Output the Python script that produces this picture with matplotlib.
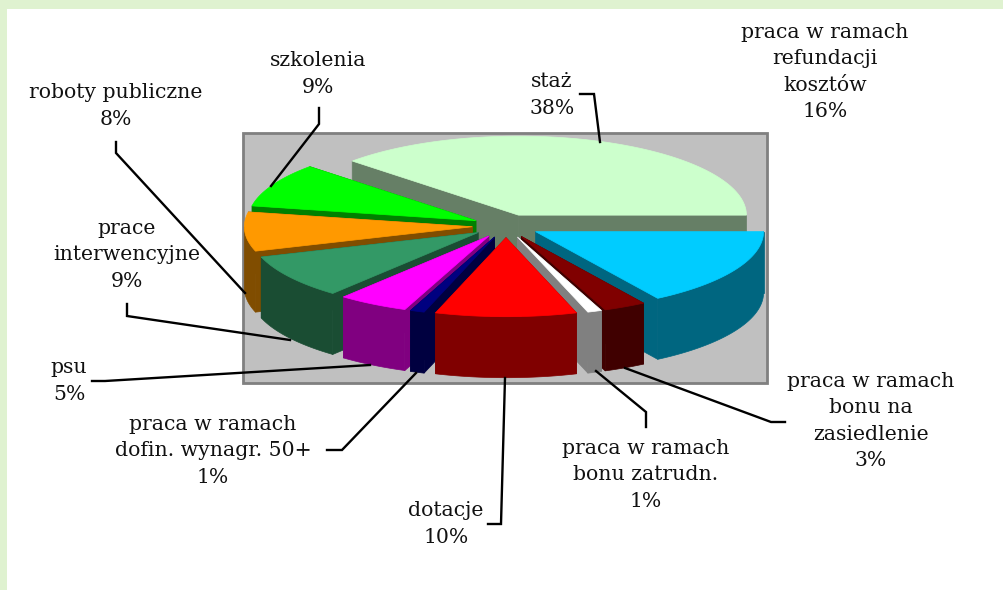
import numpy as np
import matplotlib
matplotlib.use('Agg')
import matplotlib.pyplot as plt
from matplotlib.patches import Rectangle

# udzialy w kolejnosci na wykresie (przeciwnie do wskazowek zegara, od wschodu)
categories = ['staż', 'szkolenia', 'roboty publiczne', 'prace interwencyjne', 'psu',
              'praca w ramach dofin. wynagr. 50+', 'dotacje', 'praca w ramach bonu zatrudn.',
              'praca w ramach bonu na zasiedlenie', 'praca w ramach refundacji kosztów']
values = [38, 9, 8, 9, 5, 1, 10, 1, 3, 16]
colors = ['#CCFFCC', '#00FF00', '#FF9900', '#339966', '#FF00FF',
          '#000080', '#FF0000', '#FFFFFF', '#800000', '#00CCFF']
side_colors = ['#667F66', '#008000', '#804D00', '#1A4D33', '#800080',
               '#000040', '#800000', '#808080', '#400000', '#006680']
draw_order = [0, 1, 2, 3, 9, 4, 8, 5, 7, 6]

labels = ['praca w ramach\nrefundacji\nkosztów\n16%', 'staż\n38%', 'szkolenia\n9%',
          'roboty publiczne\n8%', 'prace\ninterwencyjne\n9%', 'psu\n5%',
          'praca w ramach\ndofin. wynagr. 50+\n1%', 'dotacje\n10%',
          'praca w ramach\nbonu zatrudn.\n1%', 'praca w ramach\nbonu na\nzasiedlenie\n3%']
label_x = [825, 552, 318, 116, 127, 69, 213, 446, 646, 871]
label_y = [72, 95, 74, 106, 255, 381, 451, 524, 475, 421]

leaders = [([580, 594, 600], [94, 94, 142]),
           ([319, 319, 271], [108, 124, 186]),
           ([116, 116, 245], [142, 153, 293]),
           ([127, 127, 290], [304, 316, 340]),
           ([92, 105, 370], [381, 381, 365]),
           ([327, 342, 416], [450, 450, 373]),
           ([488, 501, 505], [524, 524, 378]),
           ([646, 646, 596], [427, 412, 371]),
           ([785, 771, 625], [422, 422, 368])]

cx, cy = 506, 226
rx, ry = 228, 79
depth = 61
explode = 0.148


def rim(ox, oy, t):
    return ox + rx * np.cos(t), oy - ry * np.sin(t)


fig = plt.figure(figsize=(10.04, 5.90), dpi=100)
ax = fig.add_axes([0, 0, 1, 1])
ax.set_xlim(0, 1004)
ax.set_ylim(590, 0)
ax.axis('off')

# tlo
ax.add_patch(Rectangle((0, 0), 1004, 590, fc='#DFF2D0', ec='none'))
ax.add_patch(Rectangle((7, 9), 997, 581, fc='white', ec='none'))
ax.add_patch(Rectangle((243.5, 132.5), 524, 250, fc='#C0C0C0', ec='#808080', lw=2))

edges = np.cumsum([0] + values) / sum(values) * 2 * np.pi

for i in draw_order:
    t0, t1 = edges[i], edges[i + 1]
    mid = (t0 + t1) / 2
    ox = cx + explode * rx * np.cos(mid)
    oy = cy - explode * ry * np.sin(mid)
    side = side_colors[i]

    # sciany promieniowe
    for t in (t0, t1):
        x, y = rim(ox, oy, t)
        ax.fill([ox, x, x, ox], [oy, y, y + depth, oy + depth], fc=side, ec=side, lw=0.5)

    # sciana zewnetrzna, tylko dolna czesc luku
    ts = np.linspace(t0, t1, 200)
    ts = ts[np.sin(ts) <= 0]
    if len(ts) > 1:
        x, y = rim(ox, oy, ts)
        ax.fill(np.r_[x, x[::-1]], np.r_[y, y[::-1] + depth], fc=side, ec=side, lw=0.5)

    # wierzch
    ts = np.linspace(t0, t1, 200)
    x, y = rim(ox, oy, ts)
    ax.fill(np.r_[ox, x], np.r_[oy, y], fc=colors[i], ec=colors[i], lw=0.5)

for xs, ys in leaders:
    ax.plot(xs, ys, color='black', lw=1.7, solid_joinstyle='miter')

for s, x, y in zip(labels, label_x, label_y):
    ax.text(x, y, s, ha='center', va='center', family='DejaVu Serif', fontsize=14.7,
            color='#111111', linespacing=1.47)

fig.savefig('out.png', dpi=100)
